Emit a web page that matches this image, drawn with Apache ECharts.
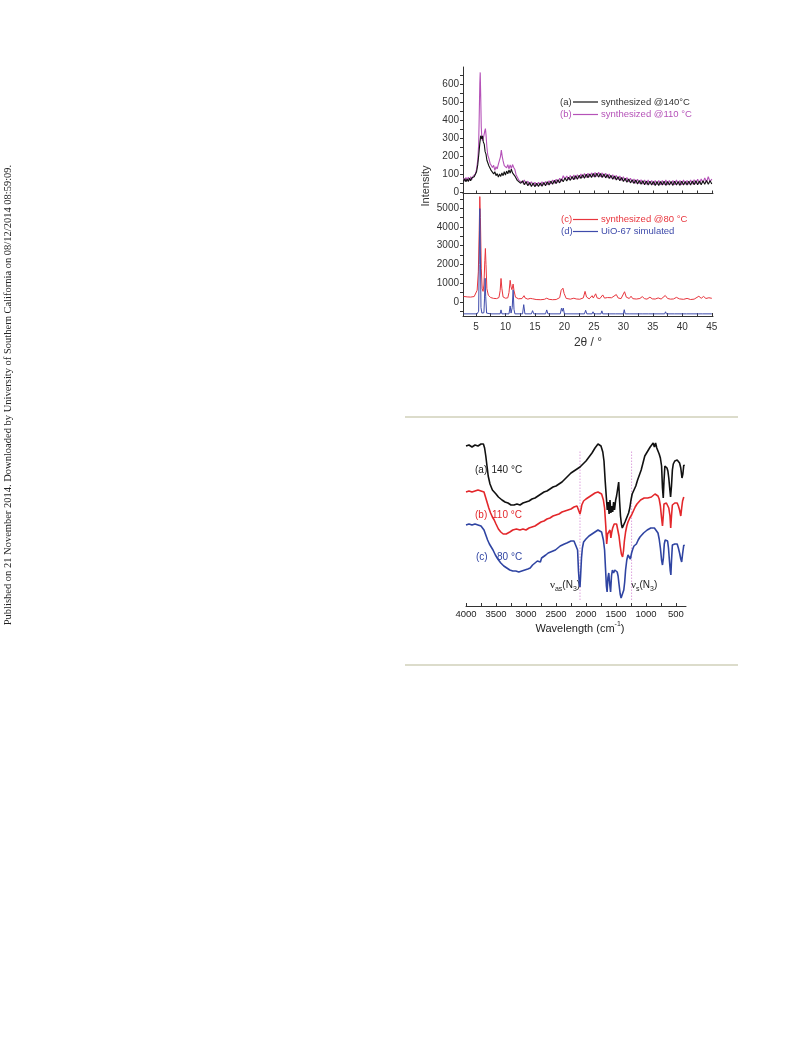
<!DOCTYPE html>
<html><head><meta charset="utf-8">
<script src="https://cdn.jsdelivr.net/npm/echarts@6/dist/echarts.min.js"></script>
<style>html,body{margin:0;padding:0;background:#fff}#c{width:793px;height:1039px}</style>
</head><body><div id="c"></div>
<script>
// ---------- XRD tick values ----------
const xrdTicks = [5,10,15,20,25,30,35,40,45];
const xrdMinorTicks = [5,7.5,10,12.5,15,17.5,20,22.5,25,27.5,30,32.5,35,37.5,40,42.5,45];
const upperTicks = [0,100,200,300,400,500,600];
const upperMinor = [0,50,100,150,200,250,300,350,400,450,500,550,600,650];
const lowerTicks = [0,1000,2000,3000,4000,5000];
const lowerMinor = [-500,0,500,1000,1500,2000,2500,3000,3500,4000,4500,5000,5500];

// (a) synthesized @140 °C  [2θ, intensity]
const xrd140 = [[2.9,58],[3.1,74],[3.3,56],[3.5,72],[3.7,58],[3.9,76],[4.1,62],[4.3,78],[4.5,68],[4.7,84],[4.9,90],[5.1,112],[5.3,150],[5.5,215],[5.65,270],[5.8,312],[5.9,322],[6.0,296],[6.1,312],[6.25,278],[6.4,266],[6.55,224],[6.7,210],[6.85,176],[7.0,172],[7.2,144],[7.4,142],[7.6,118],[7.8,122],[8.0,100],[8.2,112],[8.4,90],[8.6,102],[8.8,82],[9.0,100],[9.2,86],[9.4,106],[9.6,90],[9.8,112],[10.0,94],[10.2,116],[10.4,100],[10.6,122],[10.8,104],[11.0,126],[11.2,106],[11.4,116],[11.6,88],[11.8,88],[12.0,64],[12.3,72],[12.6,48],[12.9,62],[13.2,40],[13.5,58],[13.8,34],[14.1,52],[14.4,30],[14.7,50],[15.0,28],[15.3,48],[15.6,30],[15.9,50],[16.2,32],[16.5,52],[16.8,34],[17.1,56],[17.4,38],[17.7,60],[18.0,42],[18.3,64],[18.6,46],[18.9,68],[19.2,50],[19.5,72],[19.8,56],[20.1,78],[20.4,60],[20.7,82],[21.0,64],[21.3,86],[21.6,68],[21.9,90],[22.2,70],[22.5,92],[22.8,74],[23.1,96],[23.4,76],[23.7,98],[24.0,78],[24.3,100],[24.6,80],[24.9,102],[25.2,82],[25.5,104],[25.8,82],[26.1,102],[26.4,80],[26.7,100],[27.0,78],[27.3,96],[27.6,74],[27.9,92],[28.2,70],[28.5,88],[28.8,66],[29.1,84],[29.4,62],[29.7,80],[30.0,58],[30.3,76],[30.6,54],[30.9,72],[31.2,50],[31.5,68],[31.8,46],[32.1,66],[32.4,44],[32.7,64],[33.0,42],[33.3,62],[33.6,40],[33.9,60],[34.2,38],[34.5,60],[34.8,38],[35.1,58],[35.4,36],[35.7,58],[36.0,36],[36.3,58],[36.6,38],[36.9,60],[37.2,36],[37.5,58],[37.8,38],[38.1,58],[38.4,36],[38.7,60],[39.0,38],[39.3,58],[39.6,36],[39.9,60],[40.2,38],[40.5,58],[40.8,38],[41.1,60],[41.4,38],[41.7,60],[42.0,40],[42.3,62],[42.6,40],[42.9,60],[43.2,40],[43.5,62],[43.8,42],[44.1,64],[44.4,42],[44.7,62],[45.0,44]];

// (b) synthesized @110 °C
const xrd110 = [[2.9,76],[3.1,60],[3.3,80],[3.5,62],[3.7,82],[3.9,64],[4.1,84],[4.3,68],[4.5,86],[4.7,80],[4.9,100],[5.1,125],[5.3,175],[5.45,260],[5.55,420],[5.65,600],[5.72,665],[5.8,540],[5.9,360],[6.0,300],[6.1,285],[6.2,290],[6.35,315],[6.5,340],[6.6,352],[6.7,320],[6.85,250],[7.0,205],[7.2,185],[7.4,158],[7.6,162],[7.8,136],[8.0,148],[8.2,120],[8.4,140],[8.6,128],[8.8,154],[9.0,156],[9.15,195],[9.3,232],[9.45,198],[9.6,172],[9.8,146],[10.0,150],[10.2,134],[10.4,152],[10.6,128],[10.8,150],[11.0,130],[11.2,152],[11.4,136],[11.6,124],[11.8,96],[12.0,88],[12.3,64],[12.6,72],[12.9,50],[13.2,66],[13.5,42],[13.8,60],[14.1,38],[14.4,56],[14.7,36],[15.0,54],[15.3,34],[15.6,54],[15.9,36],[16.2,56],[16.5,38],[16.8,58],[17.1,40],[17.4,62],[17.7,44],[18.0,66],[18.3,48],[18.6,70],[18.9,52],[19.2,76],[19.5,60],[19.8,90],[20.1,70],[20.4,88],[20.7,68],[21.0,92],[21.3,70],[21.6,94],[21.9,72],[22.2,96],[22.5,76],[22.8,100],[23.1,78],[23.4,102],[23.7,80],[24.0,104],[24.3,82],[24.6,106],[24.9,84],[25.2,108],[25.5,86],[25.8,110],[26.1,84],[26.4,106],[26.7,82],[27.0,104],[27.3,80],[27.6,100],[27.9,76],[28.2,96],[28.5,72],[28.8,92],[29.1,68],[29.4,88],[29.7,64],[30.0,84],[30.3,60],[30.6,80],[30.9,56],[31.2,76],[31.5,52],[31.8,72],[32.1,48],[32.4,70],[32.7,46],[33.0,68],[33.3,44],[33.6,66],[33.9,42],[34.2,66],[34.5,42],[34.8,64],[35.1,40],[35.4,64],[35.7,40],[36.0,64],[36.3,40],[36.6,64],[36.9,40],[37.2,66],[37.5,40],[37.8,64],[38.1,42],[38.4,64],[38.7,40],[39.0,66],[39.3,42],[39.6,64],[39.9,40],[40.2,66],[40.5,42],[40.8,64],[41.1,42],[41.4,66],[41.7,44],[42.0,68],[42.3,44],[42.6,70],[42.9,46],[43.2,72],[43.5,50],[43.8,78],[44.1,54],[44.4,84],[44.7,56],[45.0,72]];

// (c) synthesized @80 °C
const xrd80 = [[2.9,290],[3.2,275],[3.5,265],[3.8,258],[4.1,255],[4.4,262],[4.7,285],[4.95,340],[5.2,620],[5.4,1600],[5.55,3800],[5.65,5620],[5.75,4500],[5.9,1800],[6.05,700],[6.2,560],[6.35,900],[6.5,2200],[6.6,2850],[6.7,2000],[6.85,700],[7.1,350],[7.5,230],[8.0,185],[8.5,175],[8.9,230],[9.1,600],[9.25,1250],[9.4,700],[9.6,260],[10.0,195],[10.4,215],[10.6,500],[10.8,1150],[10.95,800],[11.1,650],[11.3,950],[11.45,600],[11.7,250],[12.2,165],[12.8,175],[13.0,260],[13.15,330],[13.35,200],[13.8,145],[14.2,185],[14.4,225],[14.6,165],[15.2,125],[16.0,115],[16.6,135],[17.0,195],[17.4,135],[18.0,115],[18.6,125],[19.2,225],[19.45,620],[19.6,580],[19.75,730],[19.95,450],[20.3,185],[21.0,145],[21.6,195],[22.0,155],[22.6,140],[23.2,210],[23.5,560],[23.75,260],[24.2,160],[24.7,330],[24.9,205],[25.3,430],[25.55,210],[26.0,170],[26.5,370],[26.8,200],[27.3,230],[27.6,170],[28.0,220],[28.3,180],[28.8,390],[29.1,210],[29.6,170],[30.2,540],[30.5,250],[31.0,180],[31.3,300],[31.6,170],[32.2,150],[32.8,180],[33.2,280],[33.6,170],[34.0,145],[34.5,250],[34.9,160],[35.4,150],[35.9,210],[36.4,150],[37.1,340],[37.5,180],[38.0,145],[38.5,155],[39.0,240],[39.5,160],[40.2,135],[40.8,185],[41.4,125],[42.0,145],[42.8,300],[43.2,190],[43.6,290],[44.0,180],[44.5,220],[45.0,190]];

// (d) UiO-67 simulated
const xrdSim = [[2.9,-640],[5.2,-640],[5.45,-500],[5.55,2000],[5.65,4980],[5.75,2500],[5.85,-300],[6.0,-600],[6.35,-580],[6.45,200],[6.55,1260],[6.65,300],[6.8,-600],[7.5,-640],[9.1,-640],[9.25,-430],[9.4,-640],[10.6,-640],[10.8,-220],[10.95,-600],[11.15,-300],[11.3,640],[11.45,-400],[11.6,-640],[12.9,-640],[13.1,-150],[13.3,-640],[14.4,-640],[14.6,-470],[14.8,-640],[16.8,-640],[17.0,-430],[17.2,-640],[19.3,-640],[19.5,-340],[19.65,-500],[19.8,-330],[20.0,-640],[23.4,-640],[23.6,-450],[23.8,-640],[24.7,-640],[24.85,-530],[25.0,-640],[25.4,-640],[25.55,-550],[25.7,-640],[26.2,-640],[26.35,-480],[26.5,-640],[27.7,-640],[27.85,-580],[28.0,-640],[28.7,-640],[28.85,-570],[29.0,-640],[30.0,-640],[30.15,-420],[30.3,-640],[31.1,-640],[31.25,-570],[31.4,-640],[33.2,-640],[33.35,-570],[33.5,-640],[34.3,-640],[34.45,-550],[34.6,-640],[35.7,-640],[35.85,-590],[36.0,-640],[37.0,-640],[37.15,-530],[37.3,-640],[38.7,-640],[38.85,-590],[39.0,-640],[40.7,-640],[40.85,-600],[41.0,-640],[42.7,-640],[42.85,-570],[43.0,-640],[43.4,-640],[43.55,-550],[43.7,-640],[45.0,-640]];

// ---------- IR spectra [wavenumber, offset transmittance (a.u.)] ----------
const irTicks = [4000,3500,3000,2500,2000,1500,1000,500];
const irMinor = [4000,3750,3500,3250,3000,2750,2500,2250,2000,1750,1500,1250,1000,750,500];
const ir140 = [[4000,160],[3950,161],[3900,159],[3850,161],[3800,160],[3750,162],[3710,162],[3690,158],[3670,150],[3650,140],[3630,130],[3600,122],[3560,116],[3500,112],[3460,109],[3400,106],[3350,104],[3300,103],[3250,101],[3200,101],[3150,102],[3100,101],[3050,103],[3000,104],[2950,105],[2900,107],[2850,108],[2800,110],[2750,112],[2700,114],[2650,115],[2600,117],[2550,119],[2500,120],[2450,122],[2400,124],[2350,127],[2300,130],[2250,133],[2200,135],[2150,137],[2100,139],[2050,142],[2000,145],[1950,149],[1900,153],[1850,158],[1800,162],[1780,163],[1750,160],[1720,154],[1700,145],[1680,125],[1660,108],[1645,96],[1630,104],[1615,92],[1600,106],[1585,93],[1570,100],[1555,94],[1540,104],[1525,96],[1505,106],[1490,110],[1470,118],[1455,124],[1440,105],[1425,90],[1410,82],[1395,78],[1380,76],[1365,80],[1350,84],[1330,86],[1310,90],[1290,93],[1270,98],[1250,106],[1230,112],[1200,116],[1170,120],[1140,126],[1110,131],[1080,136],[1050,143],[1020,150],[1000,148],[990,153],[970,151],[960,156],[945,154],[930,159],[915,157],[900,161],[880,163],[860,159],[840,163],[820,158],[800,156],[780,152],[760,148],[740,140],[725,118],[712,108],[700,125],[685,140],[670,142],[650,138],[635,135],[620,128],[605,118],[590,109],[575,120],[560,136],[545,142],[520,145],[500,147],[480,146],[460,145],[440,143],[420,138],[400,128],[385,132],[370,141],[360,140]];
const ir110 = [[4000,114],[3950,115],[3900,114],[3850,115],[3800,116],[3750,115],[3700,114],[3680,110],[3650,104],[3620,98],[3590,93],[3560,89],[3530,86],[3500,82],[3460,77],[3420,74],[3380,72],[3330,72],[3270,74],[3220,76],[3160,77],[3100,76],[3050,77],[3000,76],[2950,78],[2900,79],[2850,80],[2800,82],[2750,84],[2700,85],[2650,87],[2600,88],[2550,90],[2500,91],[2450,92],[2400,94],[2350,95],[2300,96],[2250,97],[2200,99],[2150,100],[2120,99],[2100,92],[2085,96],[2070,101],[2040,105],[2000,107],[1950,109],[1900,111],[1850,113],[1800,114],[1770,113],[1740,112],[1710,106],[1690,98],[1670,80],[1655,62],[1640,72],[1620,70],[1600,76],[1585,68],[1570,74],[1555,78],[1530,82],[1510,80],[1490,82],[1470,76],[1450,70],[1430,60],[1410,52],[1390,49],[1375,55],[1360,65],[1340,74],[1320,80],[1300,84],[1270,88],[1240,91],[1210,95],[1180,99],[1150,102],[1120,104],[1090,106],[1060,107],[1030,108],[1000,109],[970,108],[940,110],[910,109],[880,111],[850,112],[820,111],[800,110],[780,107],[760,100],[740,88],[725,80],[712,90],[700,102],[680,104],[660,103],[640,101],[620,98],[600,90],[588,78],[575,90],[560,101],[540,102],[520,103],[500,104],[480,103],[460,100],[440,96],[420,90],[405,98],[390,105],[370,109]];
const ir80 = [[4000,81],[3950,82],[3900,81],[3850,82],[3800,81],[3750,80],[3720,80],[3700,76],[3670,71],[3640,66],[3610,62],[3580,59],[3550,56],[3510,51],[3470,47],[3420,43],[3370,40],[3320,38],[3270,36],[3220,35],[3170,35],[3120,34],[3070,35],[3020,36],[2970,37],[2930,38],[2890,41],[2850,43],[2810,45],[2780,46],[2760,44],[2740,48],[2710,50],[2670,51],[2630,53],[2590,54],[2550,55],[2510,56],[2470,58],[2430,60],[2400,61],[2360,62],[2320,63],[2290,64],[2250,65],[2220,66],[2200,65],[2180,62],[2160,63],[2140,56],[2125,35],[2110,22],[2100,19],[2090,30],[2075,48],[2060,58],[2040,64],[2000,67],[1950,70],[1900,72],[1850,74],[1800,76],[1770,75],[1740,74],[1710,66],[1690,56],[1675,38],[1660,20],[1648,14],[1635,28],[1620,33],[1605,22],[1590,14],[1575,30],[1560,36],[1540,33],[1520,36],[1500,37],[1480,34],[1465,30],[1450,22],[1430,12],[1415,8],[1400,6],[1385,8],[1370,16],[1355,24],[1340,36],[1320,46],[1300,51],[1280,50],[1260,47],[1240,53],[1220,57],[1200,60],[1180,58],[1160,62],[1130,66],[1100,69],[1070,71],[1040,73],[1010,74],[980,76],[950,77],[920,78],[890,79],[860,78],[830,78],[800,73],[780,67],[760,58],[740,46],[725,41],[710,48],[695,62],[680,66],[660,67],[640,65],[625,58],[610,46],[595,35],[585,31],[575,45],[560,61],[540,63],[520,62],[500,60],[480,62],[460,58],[440,53],[420,47],[405,44],[390,52],[370,61],[360,60]];
const irMarkAs = [[2100,6],[2100,156]];
const irMarkS = [[1240,6],[1240,156]];

const FONT = 'Liberation Sans, Arial, sans-serif';
const AX = '#333';
const plain = v => String(v);
const chart = echarts.init(document.getElementById('c'), null, {renderer: 'canvas'});

function xAxisCommon(grid, showLabels) {
  return {
    type: 'value', gridIndex: grid, min: 2.8, max: 45.2,
    axisLine: {show: true, onZero: false, lineStyle: {color: AX, width: 1}},
    axisTick: {show: true, inside: true, length: 3, customValues: xrdMinorTicks, lineStyle: {color: AX}},
    axisLabel: {show: showLabels, customValues: xrdTicks, formatter: plain, margin: 6, fontSize: 10, color: '#333', fontFamily: FONT},
    splitLine: {show: false}
  };
}
function lineSeries(data, xi, yi, color, w) {
  return {type: 'line', data: data, xAxisIndex: xi, yAxisIndex: yi, symbol: 'none',
    lineStyle: {color: color, width: w}, itemStyle: {color: color}, animation: false, silent: true};
}
function txt(x, y, text, color, size, extra) {
  return Object.assign({type: 'text', x: x, y: y, silent: true,
    style: {text: text, fill: color, font: size + 'px ' + FONT, textAlign: 'left', textVerticalAlign: 'middle'}}, extra || {});
}
function seg(x1, y1, x2, y2, color) {
  return {type: 'line', silent: true, shape: {x1: x1, y1: y1, x2: x2, y2: y2}, style: {stroke: color, lineWidth: 1.2}};
}

const MAG = '#b552b8', RED = '#e8353d', BLUE = '#3e4bab';
const IRRED = '#e3272b', IRBLUE = '#2f44a2';
const subRich = {
  n: {fontFamily: 'Liberation Serif', fontSize: 11, lineHeight: 16, fill: '#222'},
  s: {fontFamily: 'Liberation Sans', fontSize: 7, lineHeight: 16, verticalAlign: 'bottom', fill: '#222'},
  t: {fontFamily: 'Liberation Sans', fontSize: 10, lineHeight: 16, fill: '#222'}
};

chart.setOption({
  animation: false,
  backgroundColor: '#fff',
  grid: [
    {left: 463, top: 67, width: 250, height: 126.5},
    {left: 463, top: 194, width: 250, height: 122},
    {left: 466, top: 430, width: 220, height: 176}
  ],
  xAxis: [
    xAxisCommon(0, false),
    xAxisCommon(1, true),
    {type: 'value', gridIndex: 2, min: 333, max: 4000, inverse: true,
      axisLine: {show: true, onZero: false, lineStyle: {color: AX, width: 1}},
      axisTick: {show: true, inside: true, length: 3, customValues: irMinor, lineStyle: {color: AX}},
      axisLabel: {customValues: irTicks, formatter: plain, margin: 3, fontSize: 9.5, color: '#222', fontFamily: FONT},
      splitLine: {show: false}}
  ],
  yAxis: [
    {type: 'value', gridIndex: 0, min: -9, max: 695,
      axisLine: {show: true, onZero: false, lineStyle: {color: AX}},
      axisTick: {show: true, inside: false, length: 3, customValues: upperMinor, lineStyle: {color: AX}},
      axisLabel: {customValues: upperTicks, formatter: plain, margin: 4, fontSize: 10, color: '#333', fontFamily: FONT},
      splitLine: {show: false}},
    {type: 'value', gridIndex: 1, min: -755, max: 5760,
      axisLine: {show: true, onZero: false, lineStyle: {color: AX}},
      axisTick: {show: true, inside: false, length: 3, customValues: lowerMinor, lineStyle: {color: AX}},
      axisLabel: {customValues: lowerTicks, formatter: plain, margin: 4, fontSize: 10, color: '#333', fontFamily: FONT},
      splitLine: {show: false}},
    {type: 'value', gridIndex: 2, min: 0, max: 176, show: false}
  ],
  series: [
    lineSeries(xrd110, 0, 0, MAG, 1.1),
    lineSeries(xrd140, 0, 0, '#111', 1.1),
    lineSeries(xrd80, 1, 1, RED, 1),
    lineSeries(xrdSim, 1, 1, BLUE, 1),
    Object.assign(lineSeries(irMarkAs, 2, 2, '#d48ad4', 0.8), {lineStyle: {color: '#d48ad4', width: 0.8, type: [1.5, 1.5]}}),
    Object.assign(lineSeries(irMarkS, 2, 2, '#d48ad4', 0.8), {lineStyle: {color: '#d48ad4', width: 0.8, type: [1.5, 1.5]}}),
    lineSeries(ir140, 2, 2, '#111', 1.6),
    lineSeries(ir110, 2, 2, IRRED, 1.6),
    lineSeries(ir80, 2, 2, IRBLUE, 1.6)
  ],
  graphic: [
    {type: 'text', x: 8, y: 395, rotation: Math.PI / 2, silent: true,
      style: {text: 'Published on 21 November 2014. Downloaded by University of Southern California on 08/12/2014 08:59:09.',
        fill: '#222', font: '10.5px Liberation Serif, Times New Roman, serif', textAlign: 'center', textVerticalAlign: 'middle'}},
    {type: 'rect', silent: true, shape: {x: 405, y: 416, width: 333, height: 2}, style: {fill: '#dcdccb'}},
    {type: 'rect', silent: true, shape: {x: 405, y: 664, width: 333, height: 2}, style: {fill: '#dcdccb'}},
    {type: 'text', x: 426, y: 186, rotation: Math.PI / 2, silent: true,
      style: {text: 'Intensity', fill: '#333', font: '11px ' + FONT, textAlign: 'center', textVerticalAlign: 'middle'}},
    {type: 'text', x: 588, y: 343, silent: true,
      style: {text: '2θ / °', fill: '#333', font: '12px ' + FONT, textAlign: 'center', textVerticalAlign: 'middle'}},
    txt(560, 102, '(a)', '#333', 9.5), seg(573, 102, 598, 102, '#111'), txt(601, 102, 'synthesized @140°C', '#333', 9.5),
    txt(560, 114.5, '(b)', MAG, 9.5), seg(573, 114.5, 598, 114.5, MAG), txt(601, 114.5, 'synthesized @110 °C', MAG, 9.5),
    txt(561, 219.5, '(c)', RED, 9.5), seg(573, 219.5, 598, 219.5, RED), txt(601, 219.5, 'synthesized @80 °C', RED, 9.5),
    txt(561, 231.5, '(d)', BLUE, 9.5), seg(573, 231.5, 598, 231.5, BLUE), txt(601, 231.5, 'UiO-67 simulated', BLUE, 9.5),
    txt(475, 470, '(a)', '#222', 10), txt(491.5, 470, '140 °C', '#222', 10),
    txt(475, 515, '(b)', IRRED, 10), txt(492, 515, '110 °C', IRRED, 10),
    txt(476, 557, '(c)', IRBLUE, 10), txt(497, 557, '80 °C', IRBLUE, 10),
    {type: 'text', x: 550, y: 585, silent: true, style: {
      text: '{n|ν}{s|as}{t|(N}{s|3}{t|)}', textAlign: 'left', textVerticalAlign: 'middle', rich: subRich}},
    {type: 'text', x: 631, y: 585, silent: true, style: {
      text: '{n|ν}{s|s}{t|(N}{s|3}{t|)}', textAlign: 'left', textVerticalAlign: 'middle', rich: subRich}},
    {type: 'text', x: 580, y: 629, silent: true, style: {
      text: '{t|Wavelength (cm}{s|-1}{t|)}', textAlign: 'center', textVerticalAlign: 'middle',
      rich: {t: {fontFamily: 'Liberation Sans', fontSize: 11, lineHeight: 16, fill: '#222'},
             s: {fontFamily: 'Liberation Sans', fontSize: 7, lineHeight: 16, verticalAlign: 'top', fill: '#222'}}}}
  ]
});
</script></body></html>
